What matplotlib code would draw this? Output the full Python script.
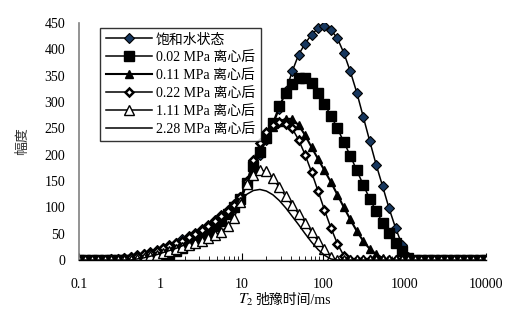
import numpy as np
import matplotlib
matplotlib.use("Agg")
import matplotlib.pyplot as plt
from matplotlib.ticker import FixedLocator, FixedFormatter, LogLocator, NullFormatter

plt.rcParams['font.family'] = ['Liberation Serif', 'Noto Sans CJK SC']
plt.rcParams['mathtext.fontset'] = 'stix'

# T2 弛豫时间 (ms), 64 个采样点
t2 = np.logspace(-1, 4, 64)

# 饱和水状态
sat = [0, 0, 0, 0, 0, 1, 2, 4, 6, 9, 12, 15, 19, 23, 28, 33, 39, 45, 52, 59,
       67, 76, 85, 95, 106, 120, 145, 172, 200, 228, 256, 287, 320, 358, 390, 411,
       428, 440, 445, 437, 421, 393, 358, 318, 272, 226, 181, 140, 98, 61,
       29, 5, 0, 0, 0, 0, 0, 0, 0, 0, 0, 0, 0, 0]
# 0.02 MPa 离心后
p002 = [0, 0, 0, 0, 0, 0, 0, 0, 0, 0, 0, 0, 3, 7, 12, 17, 23, 30, 37, 45,
        54, 64, 75, 87, 100, 116, 146, 178, 205, 231, 260, 293, 318, 334, 346, 346,
        336, 317, 296, 274, 250, 224, 198, 170, 143, 116, 93, 71, 51, 32,
        17, 4, 0, 0, 0, 0, 0, 0, 0, 0, 0, 0, 0, 0]
# 0.11 MPa 离心后
p011 = [0, 0, 0, 0, 0, 1, 2, 3, 5, 8, 11, 14, 18, 22, 27, 32, 37, 43, 50, 57,
        65, 74, 83, 93, 104, 118, 145, 180, 212, 236, 252, 263, 268, 268, 256, 237,
        214, 192, 170, 148, 124, 100, 77, 55, 36, 21, 11, 4, 0, 0,
        0, 0, 0, 0, 0, 0, 0, 0, 0, 0, 0, 0, 0, 0]
# 0.22 MPa 离心后
p022 = [0, 0, 0, 0, 0, 1, 2, 3, 5, 8, 11, 14, 18, 22, 27, 32, 37, 43, 50, 57,
        65, 74, 83, 93, 105, 120, 150, 190, 222, 243, 256, 262, 258, 250, 228, 200,
        167, 131, 95, 61, 31, 8, 0, 0, 0, 0, 0, 0, 0, 0,
        0, 0, 0, 0, 0, 0, 0, 0, 0, 0, 0, 0, 0, 0]
# 1.11 MPa 离心后
p111 = [0, 0, 0, 0, 0, 0, 0, 0, 0, 2, 4, 7, 10, 13, 17, 21, 25, 29, 33, 37,
        42, 47, 54, 64, 80, 110, 145, 162, 170, 169, 155, 138, 121, 104, 88, 71,
        54, 36, 20, 6, 0, 0, 0, 0, 0, 0, 0, 0, 0, 0,
        0, 0, 0, 0, 0, 0, 0, 0, 0, 0, 0, 0, 0, 0]
# 2.28 MPa 离心后
p228 = [0, 0, 0, 0, 0, 0, 0, 0, 0, 2, 4, 7, 10, 14, 18, 22, 27, 32, 38, 44,
        51, 59, 68, 80, 95, 112, 125, 132, 134, 131, 124, 113, 99, 83, 67, 50,
        34, 20, 9, 2, 0, 0, 0, 0, 0, 0, 0, 0, 0, 0,
        0, 0, 0, 0, 0, 0, 0, 0, 0, 0, 0, 0, 0, 0]

labels = ['饱和水状态', '0.02 MPa 离心后', '0.11 MPa 离心后',
          '0.22 MPa 离心后', '1.11 MPa 离心后', '2.28 MPa 离心后']
xticks = [0.1, 1, 10, 100, 1000, 10000]
xtick_labels = ['0.1', '1', '10', '100', '1000', '10000']

fig = plt.figure(figsize=(5.29, 3.22), dpi=100)
ax = fig.add_axes([0.1493, 0.1925, 0.7694, 0.736])

ax.plot(t2, sat, color='black', lw=1.1, marker='D', ms=5, mfc='#17375e', mec='black', mew=0.8, label=labels[0])
ax.plot(t2, p002, color='black', lw=1.1, marker='s', ms=7, mfc='black', mec='black', label=labels[1])
ax.plot(t2, p011, color='black', lw=1.5, marker='^', ms=6, mfc='black', mec='black', label=labels[2])
ax.plot(t2, p022, color='black', lw=1.1, marker='D', ms=4.2, mfc='white', mec='black', mew=1.8, label=labels[3])
ax.plot(t2, p111, color='black', lw=1.1, marker='^', ms=6.5, mfc='white', mec='black', mew=1.0, label=labels[4])
ax.plot(t2, p228, color='black', lw=1.1, label=labels[5])

ax.set_xscale('log')
ax.set_xlim(0.1, 10000)
ax.set_ylim(0, 450)
ax.set_yticks(range(0, 451, 50))
ax.xaxis.set_major_locator(FixedLocator(xticks))
ax.xaxis.set_major_formatter(FixedFormatter(xtick_labels))
ax.xaxis.set_minor_locator(LogLocator(base=10, subs=np.arange(2, 10)))
ax.xaxis.set_minor_formatter(NullFormatter())

ax.spines['top'].set_visible(False)
ax.spines['right'].set_visible(False)
ax.spines['left'].set_color('#808080')
ax.spines['left'].set_linewidth(1.2)
ax.spines['bottom'].set_linewidth(1.0)
ax.tick_params(axis='x', which='major', direction='in', length=5, labelsize=10, pad=13)
ax.tick_params(axis='x', which='minor', direction='in', length=3)
ax.tick_params(axis='y', length=0, labelsize=10, pad=10)

# 横轴标题: T2 用斜体, 中文另写一段
fig.text(253 / 529, 1 - 300 / 322, r'$T_2$', fontsize=11, ha='right', va='center')
fig.text(255 / 529, 1 - 300 / 322, '弛豫时间/ms', fontsize=10, ha='left', va='center')
ax.set_ylabel('幅度', fontsize=10, labelpad=11, color='#333333')

leg = ax.legend(loc='upper left', bbox_to_anchor=(0.035, 1.01), fontsize=10, handlelength=3.3,
                frameon=True, fancybox=False, edgecolor='black', borderpad=0.4,
                labelspacing=0.35, handletextpad=0.3)
leg.get_frame().set_linewidth(1.0)

fig.savefig('out.png', dpi=100)
